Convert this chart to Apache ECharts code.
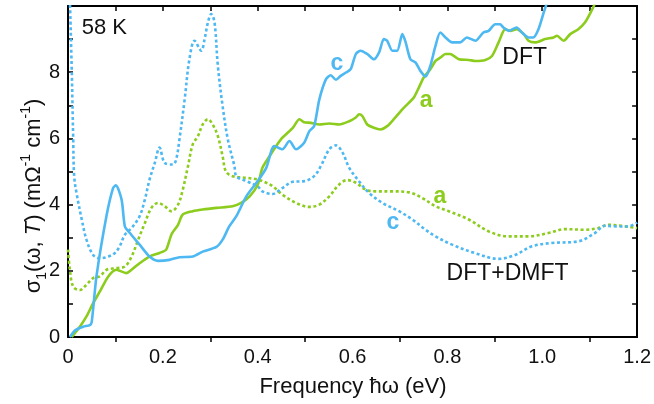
<!DOCTYPE html>
<html>
<head>
<meta charset="utf-8">
<script src="https://cdn.jsdelivr.net/npm/echarts@6/dist/echarts.min.js"></script>
<style>
  html, body { margin: 0; padding: 0; background: #fff; }
  #chart { width: 654px; height: 404px; }
</style>
</head>
<body>
<div id="chart"></div>
<script>
// Optical conductivity sigma_1(omega, T) at 58 K, in-plane (a) and out-of-plane (c)
// DFT: solid lines, DFT+DMFT: dotted lines. Points are [energy (eV), sigma_1].
const dftC = [[0.004,0],[0.015,0.2],[0.032,0.31],[0.046,0.36],[0.05,0.45],[0.06,1.83],[0.081,3.65],[0.095,4.5],[0.101,4.58],[0.113,4.15],[0.12,3.34],[0.13,3.15],[0.151,2.79],[0.172,2.43],[0.19,2.3],[0.214,2.33],[0.235,2.41],[0.263,2.43],[0.284,2.58],[0.313,2.72],[0.326,2.94],[0.34,3.34],[0.355,3.65],[0.376,4.25],[0.4,4.71],[0.418,5.11],[0.435,5.77],[0.452,5.67],[0.467,5.92],[0.481,5.67],[0.498,5.87],[0.509,6.22],[0.519,6.37],[0.53,7.18],[0.544,7.79],[0.554,7.91],[0.565,7.77],[0.575,7.89],[0.586,7.99],[0.596,8.09],[0.607,8.55],[0.617,8.65],[0.631,8.55],[0.645,8.39],[0.656,8.6],[0.666,9.0],[0.673,8.95],[0.684,8.65],[0.694,8.65],[0.705,9.15],[0.712,8.9],[0.722,8.39],[0.733,8.29],[0.743,8.04],[0.754,7.87],[0.764,8.19],[0.775,8.8],[0.785,9.2],[0.796,9.05],[0.81,8.9],[0.827,8.9],[0.841,9.05],[0.859,8.95],[0.876,9.2],[0.887,9.25],[0.901,9.45],[0.911,9.45],[0.918,9.35],[0.929,9.25],[0.946,9.35],[0.957,9.2],[0.971,9.05],[0.981,9.05],[0.992,9.3],[1.003,9.8],[1.01,10.1]];

const dftA = [[0.008,0],[0.025,0.31],[0.039,0.62],[0.053,1.02],[0.067,1.37],[0.085,1.83],[0.102,2.03],[0.123,1.93],[0.134,2.03],[0.151,2.23],[0.172,2.43],[0.193,2.54],[0.207,2.64],[0.218,3.09],[0.232,3.39],[0.242,3.7],[0.263,3.8],[0.284,3.85],[0.313,3.9],[0.347,3.95],[0.365,4.05],[0.383,4.25],[0.4,4.6],[0.41,5.11],[0.425,5.46],[0.439,5.77],[0.452,6.02],[0.474,6.32],[0.488,6.58],[0.498,6.49],[0.512,6.47],[0.53,6.42],[0.551,6.45],[0.572,6.42],[0.593,6.52],[0.607,6.63],[0.614,6.73],[0.621,6.67],[0.631,6.42],[0.645,6.32],[0.659,6.27],[0.673,6.37],[0.687,6.58],[0.705,6.88],[0.719,7.08],[0.729,7.23],[0.74,7.54],[0.75,7.84],[0.764,8.09],[0.775,8.34],[0.785,8.44],[0.796,8.55],[0.806,8.55],[0.824,8.39],[0.845,8.37],[0.859,8.34],[0.88,8.37],[0.894,8.49],[0.908,8.9],[0.922,9.3],[0.933,9.25],[0.946,9.3],[0.961,9.15],[0.971,8.95],[0.985,8.9],[1.006,9.0],[1.024,9.05],[1.031,9.1],[1.045,8.95],[1.059,9.15],[1.076,9.3],[1.09,9.5],[1.104,9.86],[1.112,10.1]];

const dmftC = [[0.004,10.2],[0.008,8],[0.011,5.97],[0.013,4.86],[0.018,4.35],[0.029,3.55],[0.039,2.94],[0.053,2.48],[0.067,2.38],[0.085,2.43],[0.099,2.54],[0.109,2.74],[0.12,3.09],[0.134,3.29],[0.151,3.65],[0.162,4.15],[0.172,4.76],[0.183,5.26],[0.193,5.72],[0.204,5.26],[0.221,5.21],[0.228,5.36],[0.235,5.97],[0.246,7.18],[0.256,8.39],[0.267,8.95],[0.281,8.65],[0.288,9.0],[0.295,9.5],[0.302,9.76],[0.309,9.5],[0.316,8.19],[0.326,6.98],[0.337,5.97],[0.351,5.16],[0.355,4.86],[0.376,4.71],[0.4,4.55],[0.41,4.4],[0.431,4.32],[0.452,4.5],[0.474,4.69],[0.498,4.71],[0.519,4.86],[0.533,5.16],[0.551,5.67],[0.565,5.79],[0.579,5.57],[0.593,5.11],[0.614,4.7],[0.635,4.35],[0.663,4.05],[0.698,3.8],[0.726,3.55],[0.754,3.24],[0.775,3.04],[0.81,2.79],[0.859,2.53],[0.908,2.36],[0.943,2.48],[0.978,2.74],[1.02,2.84],[1.076,2.89],[1.111,3.14],[1.132,3.36],[1.16,3.34],[1.181,3.34],[1.2,3.46]];

const dmftA = [[0,2.64],[0.004,2.03],[0.011,1.52],[0.025,1.42],[0.039,1.58],[0.053,1.78],[0.067,1.83],[0.081,2.03],[0.102,2.08],[0.12,2.13],[0.134,2.43],[0.148,2.94],[0.162,3.44],[0.176,3.9],[0.19,4.05],[0.204,3.95],[0.218,3.8],[0.232,4.0],[0.242,4.45],[0.253,5.16],[0.263,5.82],[0.274,6.07],[0.284,6.42],[0.295,6.58],[0.305,6.42],[0.316,6.07],[0.326,5.46],[0.333,5.0],[0.347,4.86],[0.376,4.81],[0.4,4.76],[0.41,4.71],[0.431,4.56],[0.452,4.3],[0.481,4.05],[0.509,3.93],[0.53,4.0],[0.551,4.25],[0.572,4.61],[0.589,4.74],[0.607,4.66],[0.628,4.45],[0.649,4.4],[0.684,4.4],[0.719,4.37],[0.747,4.2],[0.775,3.95],[0.803,3.8],[0.845,3.55],[0.887,3.19],[0.929,3.04],[0.971,3.04],[1.013,3.14],[1.048,3.26],[1.09,3.24],[1.118,3.29],[1.139,3.39],[1.167,3.36],[1.2,3.29]];

// Axis ranges and tick labels
const xRange = [0, 1.2];
const yRange = [0, 10];
const xTickLabels = ['0', '0.2', '0.4', '0.6', '0.8', '1.0', '1.2'];
const yTickLabels = ['0', '2', '4', '6', '8', ''];

// In-plot annotations, anchored in data coordinates
const notes = [
  { text: '58 K', at: [0.029, 9.33], color: '#111', bold: false, size: 22, align: 'left' },
  { text: 'c', at: [0.567, 8.27], color: '#4db8f2', bold: true, size: 23, align: 'center' },
  { text: 'a', at: [0.755, 7.15], color: '#8ccc1c', bold: true, size: 23, align: 'center' },
  { text: 'DFT', at: [0.963, 8.44], color: '#111', bold: false, size: 23, align: 'center' },
  { text: 'a', at: [0.784, 4.24], color: '#8ccc1c', bold: true, size: 23, align: 'center' },
  { text: 'c', at: [0.685, 3.45], color: '#4db8f2', bold: true, size: 23, align: 'center' },
  { text: 'DFT+DMFT', at: [0.927, 1.92], color: '#111', bold: false, size: 23, align: 'center' }
];

const BLUE = '#4db8f2';
const GREEN = '#8ccc1c';
const FONT = '"Liberation Sans", Arial, sans-serif';

const chart = echarts.init(document.getElementById('chart'), null, { renderer: 'canvas' });

const frameLine = { show: true, onZero: false, lineStyle: { color: '#000', width: 2 } };

function solid(name, data, color) {
  return {
    name, type: 'line', data, showSymbol: false, symbol: 'none', smooth: 0.25,
    clip: true, lineStyle: { color, width: 2.6 }, z: 3
  };
}
function dotted(name, data, color) {
  return {
    name, type: 'line', data, showSymbol: false, symbol: 'none', smooth: 0.35,
    clip: true, lineStyle: { color, width: 2.6, type: [3, 2.6], cap: 'butt' }, z: 2
  };
}

chart.setOption({
  animation: false,
  backgroundColor: '#fff',
  textStyle: { fontFamily: FONT },
  grid: { left: 68, right: 15, top: 6, bottom: 67, containLabel: false },
  xAxis: [
    {
      type: 'value', position: 'bottom', min: xRange[0], max: xRange[1], interval: 0.2,
      axisLine: frameLine,
      axisTick: { show: false },
      minorTick: { show: true, splitNumber: 2, length: 5, lineStyle: { color: '#000', width: 1.5 } },
      splitLine: { show: false },
      axisLabel: {
        color: '#111', fontSize: 20, fontFamily: FONT, margin: 10,
        formatter: v => xTickLabels[Math.round(v / 0.2)]
      }
    },
    {
      type: 'value', position: 'top', min: xRange[0], max: xRange[1], interval: 0.2,
      axisLine: frameLine,
      axisTick: { show: true, inside: true, length: 5, lineStyle: { color: '#000', width: 1.5 } },
      minorTick: { show: true, splitNumber: 2, length: 5, lineStyle: { color: '#000', width: 1.5 } },
      splitLine: { show: false },
      axisLabel: { show: false }
    }
  ],
  yAxis: [
    {
      type: 'value', position: 'left', min: yRange[0], max: yRange[1], interval: 2,
      axisLine: frameLine,
      axisTick: { show: true, inside: true, length: 5, lineStyle: { color: '#000', width: 1.5 } },
      minorTick: { show: true, splitNumber: 2, length: 5, lineStyle: { color: '#000', width: 1.5 } },
      splitLine: { show: false },
      axisLabel: {
        color: '#111', fontSize: 20, fontFamily: FONT, margin: 8,
        formatter: v => yTickLabels[Math.round(v / 2)]
      }
    },
    {
      type: 'value', position: 'right', min: yRange[0], max: yRange[1], interval: 2,
      axisLine: frameLine,
      axisTick: { show: true, inside: true, length: 5, lineStyle: { color: '#000', width: 1.5 } },
      minorTick: { show: true, splitNumber: 2, length: 5, lineStyle: { color: '#000', width: 1.5 } },
      splitLine: { show: false },
      axisLabel: { show: false }
    }
  ],
  series: [
    dotted('DFT+DMFT a', dmftA, GREEN),
    dotted('DFT+DMFT c', dmftC, BLUE),
    solid('DFT a', dftA, GREEN),
    solid('DFT c', dftC, BLUE)
  ]
});

// Axis titles and annotations
const graphics = [];
graphics.push({
  type: 'text', x: 353, y: 387,
  style: {
    text: 'Frequency ħω (eV)', fill: '#111', font: '22px ' + FONT,
    align: 'center', verticalAlign: 'middle'
  }
});
graphics.push({
  type: 'text', x: 34, y: 196, rotation: Math.PI / 2,
  style: {
    text: 'σ{sub|1}(ω, {it|T}) (mΩ{sup|-1} cm{sup|-1})',
    fill: '#111', font: '22px ' + FONT, align: 'center', verticalAlign: 'middle',
    rich: {
      sub: { fontSize: 14, fontFamily: FONT, verticalAlign: 'bottom', lineHeight: 30, fill: '#111' },
      sup: { fontSize: 14, fontFamily: FONT, verticalAlign: 'top', lineHeight: 30, fill: '#111' },
      it: { fontSize: 22, fontFamily: FONT, fontStyle: 'italic', lineHeight: 30, fill: '#111' }
    },
    lineHeight: 30
  }
});
notes.forEach(n => {
  const p = chart.convertToPixel({ gridIndex: 0 }, n.at);
  graphics.push({
    type: 'text', x: p[0], y: p[1], z: 10,
    style: {
      text: n.text, fill: n.color,
      font: (n.bold ? 'bold ' : '') + n.size + 'px ' + FONT,
      align: n.align, verticalAlign: 'middle'
    }
  });
});
chart.setOption({ graphic: graphics });
</script>
</body>
</html>
